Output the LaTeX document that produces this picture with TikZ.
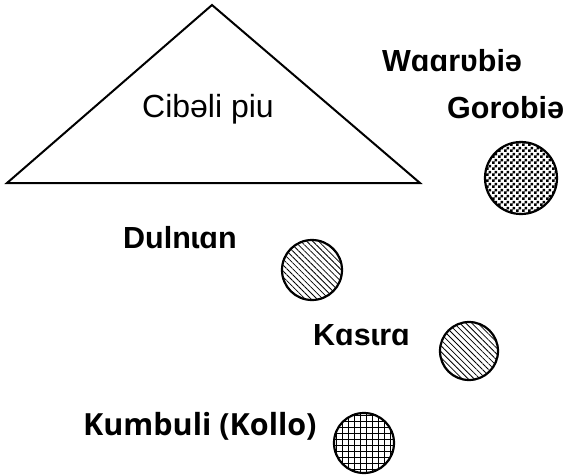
\documentclass[tikz,border=0pt]{standalone}
\usepackage{fontspec}
\setmainfont{Liberation Sans}
\newfontfamily\kumfont{Open Sans}
\usetikzlibrary{patterns,patterns.meta}
\pgfdeclarepatternformonly{mychecker}{\pgfpointorigin}{\pgfqpoint{6pt}{6pt}}{\pgfqpoint{6pt}{6pt}}{%
  \pgfpathrectangle{\pgfpointorigin}{\pgfqpoint{3pt}{3pt}}%
  \pgfpathrectangle{\pgfqpoint{3pt}{3pt}}{\pgfqpoint{3pt}{3pt}}%
  \pgfusepath{fill}}
\tikzset{
  lbl/.style={anchor=base west, inner sep=0pt, font=\fontsize{30.5}{32}\selectfont\bfseries},
  disc/.style={circle, draw, line width=2.2pt, minimum size=#1, inner sep=0pt},
  hatchd/.style={pattern={Lines[angle=-45,distance=4.2pt,line width=0.8pt]}},
  gridd/.style={pattern={Hatch[angle=0,distance=6pt,line width=0.9pt]}},
  checkd/.style={pattern=mychecker}
}
\begin{document}
\begin{tikzpicture}[x=1pt,y=-1pt]
\useasboundingbox (0,0) rectangle (568,475);
% triangle
\coordinate (apex) at (212,5);
\coordinate (bl) at (7,183);
\coordinate (br) at (420,183);
\draw[line width=2pt, line join=miter] (apex) -- (bl) -- (br) -- cycle;
\node[anchor=base west, inner sep=0pt, font=\fontsize{32}{34}\selectfont] (cib) at (142,117) {Cibəli piu};
% labels
\node[lbl] (waa) at (382,71) {Wɑɑrʋbiə};
\node[lbl] (gor) at (447,118) {Gorobiə};
\node[lbl] (dul) at (123,248) {Dulnɩɑn};
\node[lbl] (kas) at (313,345) {Kɑsɩrɑ};
\node[anchor=base west, inner sep=0pt, font=\fontsize{30.5}{32}\selectfont\kumfont\bfseries] (kum) at (83,435) {Kumbuli (Kollo)};
% circles
\node[disc=72pt, checkd] (cgor) at (521,178) {};
\node[disc=60pt, hatchd] (cdul) at (312,270) {};
\node[disc=58pt, hatchd] (ckas) at (469,351) {};
\node[disc=60pt, gridd] (ckum) at (364,443) {};
\end{tikzpicture}
\end{document}
